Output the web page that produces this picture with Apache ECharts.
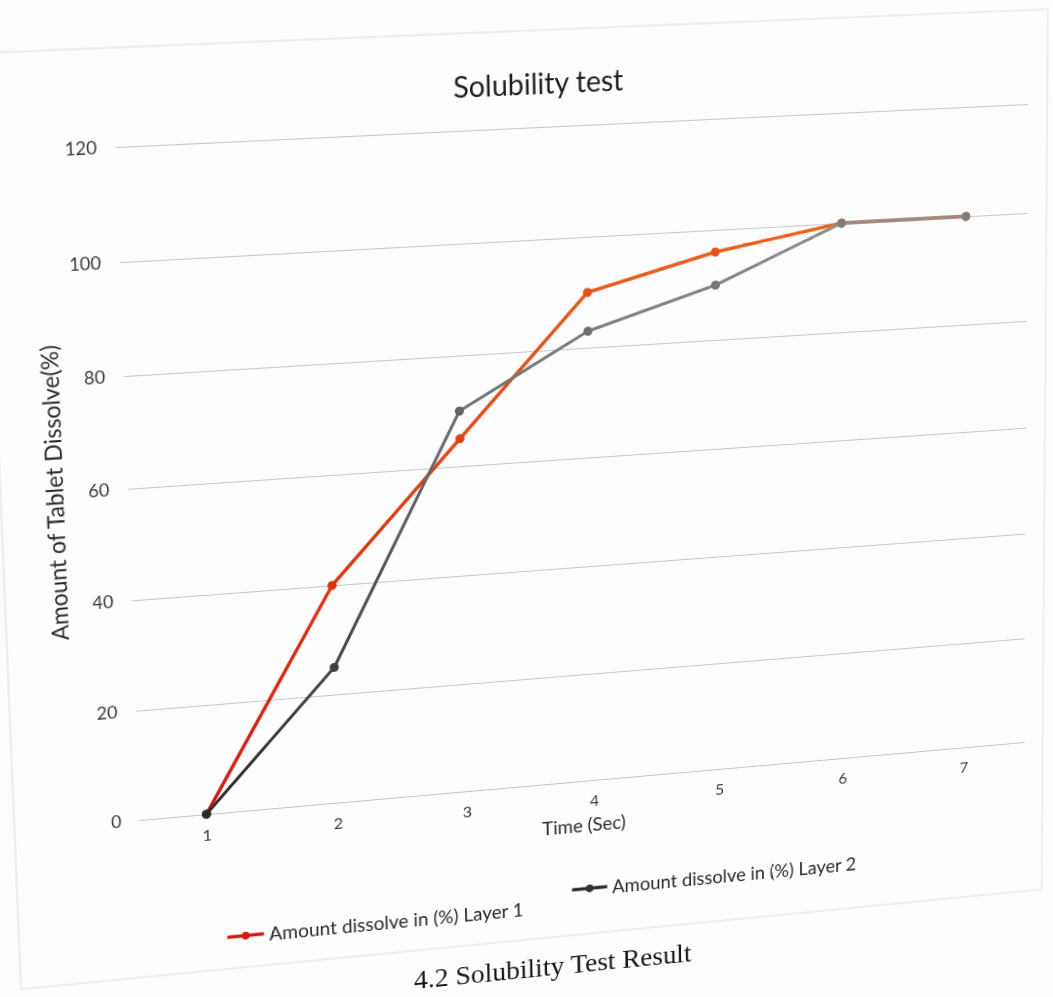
<!DOCTYPE html>
<html>
<head>
<meta charset="utf-8">
<script src="https://cdn.jsdelivr.net/npm/echarts@6/dist/echarts.min.js"></script>
<style>
  html, body { margin: 0; padding: 0; background: #ffffff; overflow: hidden; }
  #stage { position: absolute; left: 0; top: 0; width: 1053px; height: 997px; overflow: hidden; background: #fdfdfd; }
  #chart { position: absolute; left: 0; top: 0; width: 1053px; height: 997px; transform-origin: 0 0; }
</style>
</head>
<body>
<div id="stage"><div id="chart"></div></div>
<script>
// ---- data ----
const categories = ['1', '2', '3', '4', '5', '6', '7'];
const layer1 = [0, 40, 65, 90, 96, 100, 100];
const layer2 = [0, 25, 70, 83, 90, 100, 100];
const seriesNames = ['Amount dissolve in (%) Layer 1', 'Amount dissolve in (%) Layer 2'];
const yTicks = { min: 0, max: 120, step: 20 };
const titleText = 'Solubility test';
const xName = 'Time (Sec)';
const yName = 'Amount of Tablet Dissolve(%)';
const captionText = '4.2 Solubility Test Result';

// ---- layout (flat frame) ----
const plot = { left: 130, top: 130, width: 900, height: 660 };
// where the flat plot corners appear in the photographed page
const photoCorners = [[116, 147], [1028, 104], [1024, 742], [140, 820]];

function solve(A, b) {
  const n = b.length;
  for (let i = 0; i < n; i++) {
    let p = i;
    for (let r = i + 1; r < n; r++) if (Math.abs(A[r][i]) > Math.abs(A[p][i])) p = r;
    [A[i], A[p]] = [A[p], A[i]]; [b[i], b[p]] = [b[p], b[i]];
    for (let r = i + 1; r < n; r++) {
      const f = A[r][i] / A[i][i];
      for (let c = i; c < n; c++) A[r][c] -= f * A[i][c];
      b[r] -= f * b[i];
    }
  }
  const x = new Array(n).fill(0);
  for (let i = n - 1; i >= 0; i--) {
    let s = b[i];
    for (let c = i + 1; c < n; c++) s -= A[i][c] * x[c];
    x[i] = s / A[i][i];
  }
  return x;
}
function homography(src, dst) {
  const A = [], b = [];
  for (let i = 0; i < 4; i++) {
    const [x, y] = src[i], [u, v] = dst[i];
    A.push([x, y, 1, 0, 0, 0, -u * x, -u * y]); b.push(u);
    A.push([0, 0, 0, x, y, 1, -v * x, -v * y]); b.push(v);
  }
  const h = solve(A, b);
  return `matrix3d(${h[0]},${h[3]},0,${h[6]},${h[1]},${h[4]},0,${h[7]},0,0,1,0,${h[2]},${h[5]},0,1)`;
}
const L = plot.left, T = plot.top, R = plot.left + plot.width, B = plot.top + plot.height;
document.getElementById('chart').style.transform =
  homography([[L, T], [R, T], [R, B], [L, B]], photoCorners);

// ---- colours (photo lighting: darker/redder low, lighter high) ----
function mix(c1, c2, t) {
  const a = parseInt(c1.slice(1), 16), b = parseInt(c2.slice(1), 16);
  const ch = (v, s) => (v >> s) & 255;
  const m = s => Math.round(ch(a, s) + (ch(b, s) - ch(a, s)) * t);
  return `rgb(${m(16)},${m(8)},${m(0)})`;
}
const pal = [
  { low: '#d0180f', high: '#e8641e' },
  { low: '#2a2a2a', high: '#8e8e8e' }
];
function lineGrad(p) {
  return new echarts.graphic.LinearGradient(0, 1, 0, 0, [
    { offset: 0, color: p.low }, { offset: 1, color: p.high }
  ]);
}

const font = 'Lato, "Open Sans", sans-serif';
const legendText = { fontFamily: font, fontSize: 19, color: '#2a2a2a' };
const chart = echarts.init(document.getElementById('chart'), null, { renderer: 'svg' });
chart.setOption({
  animation: false,
  backgroundColor: 'transparent',
  title: {
    text: titleText, left: 530, top: 68, textAlign: 'center',
    textStyle: { fontFamily: font, fontSize: 28, fontWeight: 'normal', color: '#1e1e1e' }
  },
  grid: { left: plot.left, top: plot.top, width: plot.width, height: plot.height },
  legend: [
    {
      left: 204, top: 903, itemWidth: 36, itemHeight: 10, textStyle: legendText,
      data: [{ name: seriesNames[0], itemStyle: { color: '#d41c12' }, lineStyle: { color: '#d41c12', width: 3.5 } }]
    },
    {
      left: 549, top: 888, itemWidth: 36, itemHeight: 10, textStyle: legendText,
      data: [{ name: seriesNames[1], itemStyle: { color: '#303030' }, lineStyle: { color: '#303030', width: 3.5 } }]
    }
  ],
  xAxis: {
    type: 'category', data: categories, boundaryGap: true,
    axisLine: { lineStyle: { color: '#c4c4c4', width: 1 } },
    axisTick: { show: false },
    axisLabel: { margin: 13, fontFamily: font, fontSize: 16, color: '#3a3a3a' },
    name: xName, nameLocation: 'middle', nameGap: 36,
    nameTextStyle: { fontFamily: font, fontSize: 19, color: '#2a2a2a', padding: [0, 22, 0, 0] }
  },
  yAxis: {
    type: 'value', min: yTicks.min, max: yTicks.max, interval: yTicks.step,
    axisLine: { show: false }, axisTick: { show: false },
    splitLine: { lineStyle: { color: '#c8c8c8', width: 1 } },
    axisLabel: { margin: 18, fontFamily: font, fontSize: 17, color: '#3a3a3a' },
    name: yName, nameLocation: 'middle', nameGap: 58,
    nameTextStyle: { fontFamily: font, fontSize: 22.5, color: '#2a2a2a' }
  },
  graphic: [
    { type: 'rect', shape: { x: 10, y: 36, width: 1040, height: 914 },
      style: { fill: 'none', stroke: '#e0e0e0', lineWidth: 1 }, silent: true },
    { type: 'text', x: 394, y: 967,
      style: { text: captionText, font: '28px "Liberation Serif", serif', fill: '#151515' } }
  ],
  series: [layer1, layer2].map((vals, i) => ({
    name: seriesNames[i], type: 'line', data: vals,
    symbol: 'circle', symbolSize: 9,
    lineStyle: { width: i === 0 ? 3.4 : 3, color: lineGrad(pal[i]) },
    itemStyle: { color: p => mix(pal[i].low, pal[i].high, p.value / yTicks.max) },
    z: i === 0 ? 2 : 3
  }))
});
</script>
</body>
</html>
